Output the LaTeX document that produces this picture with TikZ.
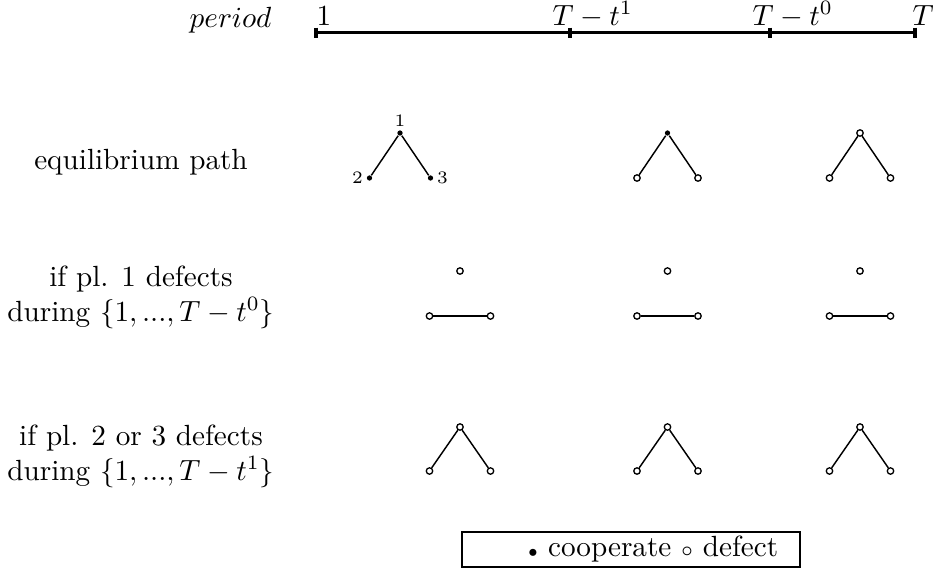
\documentclass[tikz,border=0pt]{standalone}
\begin{document}
\begin{tikzpicture}[
    x=0.3425pt,
    y=-0.3425pt,
    coop/.style={
        circle,
        fill,
        inner sep=0pt,
        minimum size=1.8pt
    },
    defect/.style={
        circle,
        draw,
        inner sep=0pt,
        minimum size=2.2pt,
        line width=0.45pt
    },
    plabel/.style={font=\fontsize{6pt}{7pt}\selectfont, inner sep=1pt},
    rowlabel/.style={align=center},
    timelabel/.style={anchor=base west, inner sep=0pt},
    timeline/.style={line width=1.1pt},
    tie/.style={line width=0.5pt},
    pair/.style={line width=0.9pt},
    legendbox/.style={
        draw,
        line width=0.7pt,
        minimum width=115.8pt,
        minimum height=12pt,
        inner sep=0pt
    }
]
\useasboundingbox (0,0) rectangle (933,572);

% Time line
\coordinate (p1) at (316,32.5);
\coordinate (p2) at (570,32.5);
\coordinate (p3) at (770,32.5);
\coordinate (pT) at (915,32.5);

\draw[timeline] (p1) -- (pT);
\draw[timeline] ([yshift=1.7pt]p1) -- ([yshift=-1.9pt]p1);
\draw[timeline] ([yshift=1.7pt]p2) -- ([yshift=-1.9pt]p2);
\draw[timeline] ([yshift=1.7pt]p3) -- ([yshift=-1.9pt]p3);
\draw[timeline] ([yshift=1.7pt]pT) -- ([yshift=-1.9pt]pT);

\node[anchor=base east, inner sep=0pt] (period) at (272,27.5) {$period$};
\node[timelabel] (l1) at (316,25.5) {1};
\node[timelabel] (l2) at (552,25.5) {$T-t^1$};
\node[timelabel] (l3) at (752,25.5) {$T-t^0$};
\node[timelabel] (lT) at (912,25.5) {$T$};

% Row labels
\node[rowlabel] (eq) at (141,162) {equilibrium path};
\node[rowlabel] (dev1) at (141,297) {if pl. 1 defects\\during $\{1,...,T-t^0\}$};
\node[rowlabel] (dev23) at (141,456) {if pl. 2 or 3 defects\\during $\{1,...,T-t^1\}$};

% Equilibrium path
\node[coop, label={[plabel]above:1}] (e1a) at (400,133) {};
\node[coop, label={[plabel]left:2}] (e1b) at (369.5,178) {};
\node[coop, label={[plabel]right:3}] (e1c) at (430.5,178) {};

\node[coop] (e2a) at (667.5,133) {};
\node[defect] (e2b) at (637,178) {};
\node[defect] (e2c) at (698,178) {};

\node[defect] (e3a) at (860,133) {};
\node[defect] (e3b) at (829.5,178) {};
\node[defect] (e3c) at (890.5,178) {};

\draw[tie] (e1a) -- (e1b);
\draw[tie] (e1a) -- (e1c);
\draw[tie] (e2a) -- (e2b);
\draw[tie] (e2a) -- (e2c);
\draw[tie] (e3a) -- (e3b);
\draw[tie] (e3a) -- (e3c);

% Player 1 deviates
\node[defect] (d1a) at (460,271) {};
\node[defect] (d1b) at (429.5,316) {};
\node[defect] (d1c) at (490.5,316) {};

\node[defect] (d2a) at (667.5,271) {};
\node[defect] (d2b) at (637,316) {};
\node[defect] (d2c) at (698,316) {};

\node[defect] (d3a) at (860,271) {};
\node[defect] (d3b) at (829.5,316) {};
\node[defect] (d3c) at (890.5,316) {};

\draw[pair] (d1b) -- (d1c);
\draw[pair] (d2b) -- (d2c);
\draw[pair] (d3b) -- (d3c);

% Player 2 or 3 deviates
\node[defect] (f1a) at (460,427) {};
\node[defect] (f1b) at (429.5,471) {};
\node[defect] (f1c) at (490.5,471) {};

\node[defect] (f2a) at (667.5,427) {};
\node[defect] (f2b) at (637,471) {};
\node[defect] (f2c) at (698,471) {};

\node[defect] (f3a) at (860,427) {};
\node[defect] (f3b) at (829.5,471) {};
\node[defect] (f3c) at (890.5,471) {};

\draw[tie] (f1a) -- (f1b);
\draw[tie] (f1a) -- (f1c);
\draw[tie] (f2a) -- (f2b);
\draw[tie] (f2a) -- (f2c);
\draw[tie] (f3a) -- (f3b);
\draw[tie] (f3a) -- (f3c);

% Legend
\node[legendbox] (legend) at (631,549.5)
    {\hspace*{15pt}$\scriptscriptstyle\bullet$ cooperate $\scriptstyle\circ$ defect};

\end{tikzpicture}
\end{document}
